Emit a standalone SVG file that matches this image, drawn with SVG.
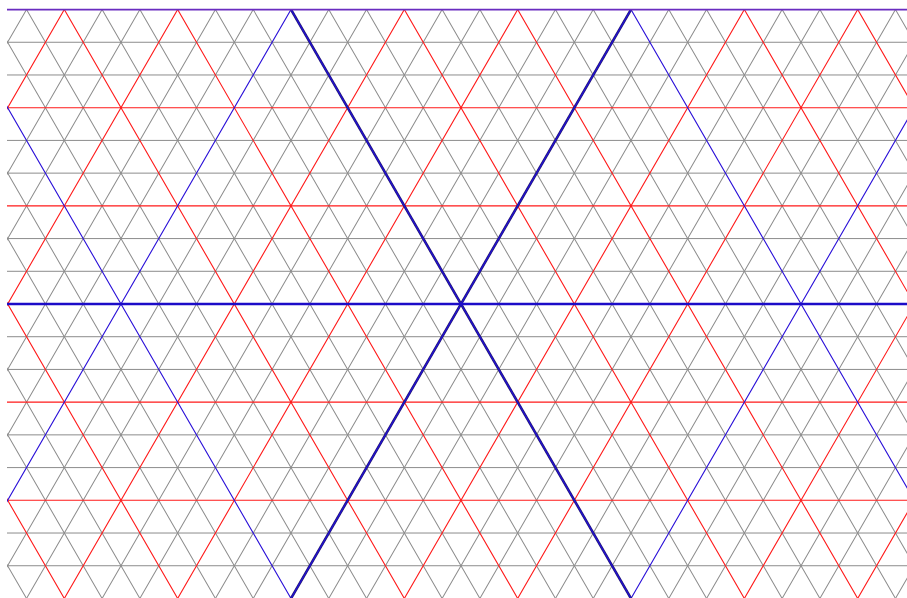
<svg xmlns="http://www.w3.org/2000/svg" width="907" height="598" viewBox="0 0 907 598">
<style>
.g{stroke:#8c8c8c;stroke-width:1;fill:none}
.r{stroke:#ff1a1a;stroke-width:1.1;fill:none}
.b{stroke:#2a10d8;stroke-width:1.1;fill:none}
.t{stroke:#1c0cc8;stroke-width:2.4;fill:none}
.d{stroke:#251a6a;stroke-width:2.6;fill:none}
.c{stroke:#2010d0;stroke-width:1.4;fill:none}
.p{stroke:#6a2cc0;stroke-width:1.8;fill:none}
</style>
<defs>
<clipPath id="clip"><rect x="7" y="9" width="900" height="590"/></clipPath>
<path id="grayH" class="g" d="M-150 -252.213H1072M-150 -219.494H1072M-150 -154.058H1072M-150 -121.339H1072M-150 -55.902H1072M-150 -23.184H1072M-150 42.253H1072M-150 74.971H1072M-150 140.408H1072M-150 173.126H1072M-150 238.563H1072M-150 271.282H1072M-150 336.718H1072M-150 369.437H1072M-150 434.874H1072M-150 467.592H1072M-150 533.029H1072M-150 565.747H1072M-150 631.184H1072M-150 663.902H1072M-150 729.339H1072M-150 762.058H1072M-150 827.494H1072M-150 860.213H1072"/>
<path id="redH" class="r" d="M-150 -186.776H1072M-150 -88.621H1072M-150 107.690H1072M-150 205.845H1072M-150 402.155H1072M-150 500.310H1072M-150 696.621H1072M-150 794.776H1072"/>
<path id="blueH" class="b" d="M-150 9.534H1072M-150 598.466H1072"/>
<path id="thickH" class="t" d="M-150 304H1072"/>
<path id="darkD" class="d" d="M-150 304H1072"/>
<path id="coreD" class="c" d="M-150 304H1072"/>
</defs>
<g id="grid" clip-path="url(#clip)">
<g id="gray-lines">
<use href="#grayH"/>
<use href="#grayH" transform="rotate(60 461 304)"/>
<use href="#grayH" transform="rotate(-60 461 304)"/>
</g>
<g id="red-lines">
<use href="#redH"/>
<use href="#redH" transform="rotate(60 461 304)"/>
<use href="#redH" transform="rotate(-60 461 304)"/>
</g>
<g id="blue-lines">
<use href="#blueH"/>
<use href="#blueH" transform="rotate(60 461 304)"/>
<use href="#blueH" transform="rotate(-60 461 304)"/>
</g>
<g id="center-lines">
<use href="#darkD" transform="rotate(60 461 304)"/>
<use href="#darkD" transform="rotate(-60 461 304)"/>
<use href="#coreD" transform="rotate(60 461 304)"/>
<use href="#coreD" transform="rotate(-60 461 304)"/>
<use href="#thickH"/>
</g>
</g>
<path id="top-edge" class="p" d="M7 9.6H907"/>
</svg>
